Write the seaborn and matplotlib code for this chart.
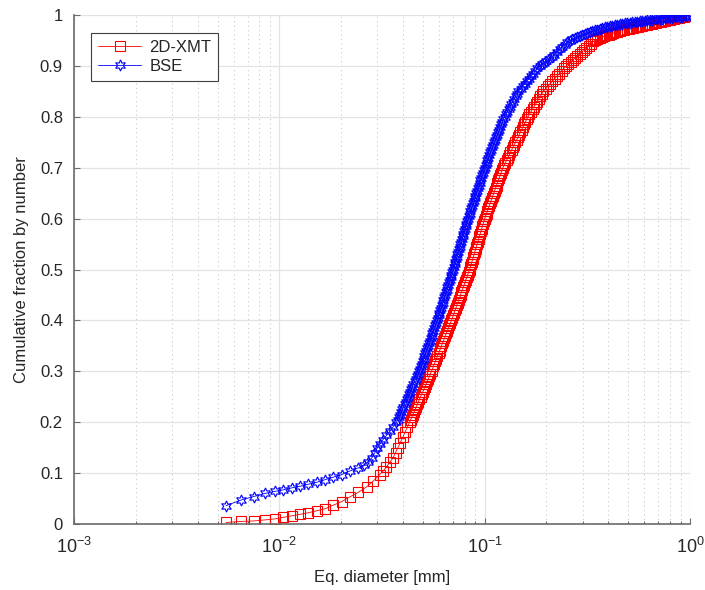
import numpy as np
import pandas as pd
import seaborn as sns
import matplotlib
matplotlib.use("Agg")
import matplotlib.pyplot as plt
from matplotlib.ticker import FixedLocator, FuncFormatter, LogLocator

# 2D-XMT (red squares): equivalent diameter [mm] and cumulative fraction
xmt_diam = [
    0.0055, 0.0065, 0.0075, 0.0085, 0.0095, 0.0104, 0.0115, 0.0126, 0.0138, 0.0152,
    0.0167, 0.0183, 0.0201, 0.0220, 0.0242, 0.0266, 0.0286, 0.0308, 0.0320, 0.0332,
    0.0345, 0.0358, 0.0368, 0.0378, 0.0388, 0.0399, 0.0409, 0.0420,
    0.0431, 0.0436, 0.0442, 0.0447, 0.0453, 0.0458, 0.0464, 0.0470, 0.0476, 0.0481,
    0.0487, 0.0493, 0.0500, 0.0506, 0.0512, 0.0518, 0.0525, 0.0531, 0.0538, 0.0544,
    0.0551, 0.0557, 0.0563, 0.0569, 0.0576, 0.0582, 0.0589, 0.0596, 0.0603, 0.0609,
    0.0616, 0.0623, 0.0630, 0.0637, 0.0644, 0.0651, 0.0659, 0.0666, 0.0674, 0.0681,
    0.0689, 0.0696, 0.0703, 0.0710, 0.0718, 0.0725, 0.0732, 0.0739, 0.0747, 0.0755,
    0.0763, 0.0770, 0.0778, 0.0786, 0.0794, 0.0802, 0.0811, 0.0819, 0.0828, 0.0836,
    0.0845, 0.0852, 0.0859, 0.0866, 0.0874, 0.0881, 0.0889, 0.0896, 0.0904, 0.0911,
    0.0919, 0.0927, 0.0935, 0.0943, 0.0951, 0.0959, 0.0967, 0.0975, 0.0983, 0.0991,
    0.1000, 0.1010, 0.1021, 0.1031, 0.1042, 0.1052, 0.1063, 0.1074, 0.1085, 0.1096,
    0.1108, 0.1119, 0.1131, 0.1142, 0.1154, 0.1166, 0.1178, 0.1190, 0.1202, 0.1214,
    0.1227, 0.1244, 0.1262, 0.1280, 0.1298, 0.1316, 0.1335, 0.1354, 0.1373, 0.1392,
    0.1412, 0.1432, 0.1452, 0.1472, 0.1493, 0.1514, 0.1535, 0.1557, 0.1579, 0.1601,
    0.1624, 0.1652, 0.1681, 0.1710, 0.1740, 0.1770, 0.1801, 0.1832, 0.1864, 0.1897,
    0.1930, 0.1980, 0.2032, 0.2085, 0.2138, 0.2194, 0.2251, 0.2310, 0.2370, 0.2431,
    0.2494, 0.2560, 0.2620, 0.2690, 0.2760, 0.2830, 0.2900, 0.2970, 0.3050, 0.3130,
    0.3210, 0.3290, 0.3370, 0.3450, 0.3540, 0.3630, 0.3720, 0.3810, 0.3910, 0.4010,
    0.4110, 0.4210, 0.4320, 0.4430, 0.4550, 0.4670, 0.4790, 0.4910, 0.5040, 0.5170,
    0.5300, 0.5440, 0.5580, 0.5720, 0.5870, 0.6020, 0.6180, 0.6340, 0.6500, 0.6670,
    0.6840, 0.7020, 0.7200, 0.7390, 0.7580, 0.7780, 0.7980, 0.8190, 0.8400, 0.8620,
    0.8840, 0.9070, 0.9300, 0.9540, 0.9770, 1.0000,
]
xmt_frac = [
    0.003, 0.005, 0.006, 0.008, 0.010, 0.013, 0.016, 0.019, 0.022, 0.026,
    0.030, 0.037, 0.044, 0.053, 0.062, 0.073, 0.084, 0.097, 0.104, 0.112,
    0.121, 0.130, 0.140, 0.150, 0.160, 0.170, 0.180, 0.190,
    0.200, 0.205, 0.210, 0.215, 0.220, 0.225, 0.230, 0.235, 0.240, 0.245,
    0.250, 0.255, 0.260, 0.265, 0.270, 0.275, 0.280, 0.285, 0.290, 0.295,
    0.300, 0.305, 0.310, 0.315, 0.320, 0.325, 0.330, 0.335, 0.340, 0.345,
    0.350, 0.355, 0.360, 0.365, 0.370, 0.375, 0.380, 0.385, 0.390, 0.395,
    0.400, 0.405, 0.410, 0.415, 0.420, 0.425, 0.430, 0.435, 0.440, 0.445,
    0.450, 0.455, 0.460, 0.465, 0.470, 0.475, 0.480, 0.485, 0.490, 0.495,
    0.500, 0.505, 0.510, 0.515, 0.520, 0.525, 0.530, 0.535, 0.540, 0.545,
    0.550, 0.555, 0.560, 0.565, 0.570, 0.575, 0.580, 0.585, 0.590, 0.595,
    0.600, 0.605, 0.610, 0.615, 0.620, 0.625, 0.630, 0.635, 0.640, 0.645,
    0.650, 0.655, 0.660, 0.665, 0.670, 0.675, 0.680, 0.685, 0.690, 0.695,
    0.700, 0.705, 0.710, 0.715, 0.720, 0.725, 0.730, 0.735, 0.740, 0.745,
    0.750, 0.755, 0.760, 0.765, 0.770, 0.775, 0.780, 0.785, 0.790, 0.795,
    0.800, 0.805, 0.810, 0.815, 0.820, 0.825, 0.830, 0.835, 0.840, 0.845,
    0.850, 0.855, 0.860, 0.865, 0.870, 0.875, 0.880, 0.885, 0.890, 0.895,
    0.900, 0.904, 0.908, 0.912, 0.916, 0.920, 0.924, 0.928, 0.932, 0.936,
    0.940, 0.944, 0.948, 0.950, 0.952, 0.954, 0.956, 0.958, 0.960, 0.961,
    0.963, 0.964, 0.966, 0.967, 0.969, 0.970, 0.971, 0.972, 0.973, 0.974,
    0.975, 0.976, 0.977, 0.978, 0.979, 0.980, 0.981, 0.982, 0.983, 0.984,
    0.985, 0.986, 0.987, 0.988, 0.989, 0.990, 0.991, 0.992, 0.993, 0.994,
    0.995, 0.996, 0.997, 0.998, 0.999, 1.000,
]

# BSE (blue hexagrams)
bse_diam = [
    0.0055, 0.0065, 0.0075, 0.0085, 0.0095, 0.0104, 0.0115, 0.0126, 0.0138, 0.0152,
    0.0167, 0.0183, 0.0201, 0.0220, 0.0242, 0.0257, 0.0270, 0.0282, 0.0292, 0.0300,
    0.0310, 0.0320, 0.0332, 0.0345, 0.0358,
    0.0372, 0.0377, 0.0382, 0.0387, 0.0392, 0.0397, 0.0402, 0.0407, 0.0412, 0.0417,
    0.0422, 0.0427, 0.0433, 0.0438, 0.0444, 0.0450, 0.0456, 0.0461, 0.0467, 0.0473,
    0.0479, 0.0484, 0.0489, 0.0494, 0.0499, 0.0504, 0.0509, 0.0514, 0.0519, 0.0524,
    0.0530, 0.0535, 0.0541, 0.0546, 0.0552, 0.0557, 0.0563, 0.0568, 0.0574, 0.0580,
    0.0586, 0.0591, 0.0597, 0.0602, 0.0608, 0.0613, 0.0619, 0.0624, 0.0630, 0.0635,
    0.0641, 0.0647, 0.0653, 0.0659, 0.0665, 0.0671, 0.0677, 0.0683, 0.0689, 0.0695,
    0.0701, 0.0707, 0.0713, 0.0719, 0.0725, 0.0731, 0.0737, 0.0743, 0.0750, 0.0756,
    0.0762, 0.0768, 0.0775, 0.0781, 0.0788, 0.0794, 0.0801, 0.0808, 0.0815, 0.0822,
    0.0829, 0.0837, 0.0845, 0.0853, 0.0861, 0.0869, 0.0877, 0.0885, 0.0893, 0.0901,
    0.0910, 0.0918, 0.0927, 0.0936, 0.0945, 0.0954, 0.0963, 0.0972, 0.0981, 0.0990,
    0.1000, 0.1010, 0.1021, 0.1032, 0.1043, 0.1054, 0.1066, 0.1078, 0.1090, 0.1102,
    0.1114, 0.1127, 0.1140, 0.1153, 0.1166, 0.1179, 0.1193, 0.1207, 0.1221, 0.1235,
    0.1250, 0.1270, 0.1290, 0.1310, 0.1330, 0.1351, 0.1372, 0.1393, 0.1415, 0.1437,
    0.1460, 0.1495, 0.1530, 0.1567, 0.1605, 0.1644, 0.1683, 0.1724, 0.1765, 0.1807,
    0.1850, 0.1900, 0.1950, 0.2000, 0.2060, 0.2120, 0.2180, 0.2250, 0.2320, 0.2380,
    0.2450, 0.2520, 0.2600, 0.2670, 0.2750, 0.2820, 0.2900, 0.2980, 0.3070, 0.3160,
    0.3250, 0.3340, 0.3440, 0.3540, 0.3640, 0.3740, 0.3850, 0.3960, 0.4070, 0.4180,
    0.4300, 0.4420, 0.4550, 0.4680, 0.4810, 0.4950, 0.5090, 0.5230, 0.5380, 0.5530,
    0.5690, 0.5850, 0.6020, 0.6190, 0.6370, 0.6550, 0.6740, 0.6930, 0.7120, 0.7320,
    0.7530, 0.7750, 0.7970, 0.8200, 0.8430, 0.8670, 0.8910, 0.9160, 0.9430, 0.9700,
    1.0000,
]
bse_frac = [
    0.036, 0.047, 0.054, 0.060, 0.064, 0.067, 0.071, 0.074, 0.078, 0.082,
    0.087, 0.092, 0.097, 0.104, 0.110, 0.115, 0.122, 0.130, 0.140, 0.150,
    0.158, 0.166, 0.174, 0.182, 0.191,
    0.200, 0.205, 0.210, 0.215, 0.220, 0.225, 0.230, 0.235, 0.240, 0.245,
    0.250, 0.255, 0.260, 0.265, 0.270, 0.275, 0.280, 0.285, 0.290, 0.295,
    0.300, 0.305, 0.310, 0.315, 0.320, 0.325, 0.330, 0.335, 0.340, 0.345,
    0.350, 0.355, 0.360, 0.365, 0.370, 0.375, 0.380, 0.385, 0.390, 0.395,
    0.400, 0.405, 0.410, 0.415, 0.420, 0.425, 0.430, 0.435, 0.440, 0.445,
    0.450, 0.455, 0.460, 0.465, 0.470, 0.475, 0.480, 0.485, 0.490, 0.495,
    0.500, 0.505, 0.510, 0.515, 0.520, 0.525, 0.530, 0.535, 0.540, 0.545,
    0.550, 0.555, 0.560, 0.565, 0.570, 0.575, 0.580, 0.585, 0.590, 0.595,
    0.600, 0.605, 0.610, 0.615, 0.620, 0.625, 0.630, 0.635, 0.640, 0.645,
    0.650, 0.655, 0.660, 0.665, 0.670, 0.675, 0.680, 0.685, 0.690, 0.695,
    0.700, 0.705, 0.710, 0.715, 0.720, 0.725, 0.730, 0.735, 0.740, 0.745,
    0.750, 0.755, 0.760, 0.765, 0.770, 0.775, 0.780, 0.785, 0.790, 0.795,
    0.800, 0.805, 0.810, 0.815, 0.820, 0.825, 0.830, 0.835, 0.840, 0.845,
    0.850, 0.855, 0.860, 0.865, 0.870, 0.875, 0.880, 0.885, 0.890, 0.895,
    0.900, 0.903, 0.906, 0.909, 0.913, 0.917, 0.922, 0.927, 0.933, 0.938,
    0.942, 0.946, 0.949, 0.952, 0.955, 0.957, 0.959, 0.961, 0.963, 0.965,
    0.967, 0.968, 0.970, 0.971, 0.973, 0.974, 0.976, 0.977, 0.978, 0.979,
    0.980, 0.981, 0.982, 0.983, 0.984, 0.984, 0.985, 0.986, 0.987, 0.987,
    0.988, 0.988, 0.989, 0.990, 0.990, 0.991, 0.992, 0.992, 0.993, 0.993,
    0.994, 0.994, 0.995, 0.995, 0.996, 0.996, 0.997, 0.997, 0.998, 0.999,
    1.000,
]
assert len(xmt_diam) == len(xmt_frac)
assert len(bse_diam) == len(bse_frac)

y_ticks = [0, 0.1, 0.2, 0.3, 0.4, 0.5, 0.6, 0.7, 0.8, 0.9, 1.0]

sns.set_style("white")
plt.rcParams["font.family"] = ["Liberation Sans", "DejaVu Sans"]
plt.rcParams["mathtext.fontset"] = "custom"
plt.rcParams["mathtext.rm"] = "Liberation Sans"
plt.rcParams["mathtext.it"] = "Liberation Sans:italic"

fig = plt.figure(figsize=(7.05, 5.9), dpi=100)
ax = fig.add_axes([74 / 705, 66 / 590, 616 / 705, 509 / 590])

df_xmt = pd.DataFrame({"diam": xmt_diam, "frac": xmt_frac})
df_bse = pd.DataFrame({"diam": bse_diam, "frac": bse_frac})

sns.lineplot(data=df_xmt, x="diam", y="frac", ax=ax, estimator=None, sort=False,
             color="#ff0000", linewidth=0.6, marker="s", markersize=6.5,
             markerfacecolor="none", markeredgecolor="#ff0000",
             markeredgewidth=0.8, label="2D-XMT")
sns.lineplot(data=df_bse, x="diam", y="frac", ax=ax, estimator=None, sort=False,
             color="#0000ff", linewidth=0.6, marker=(6, 1, 0), markersize=8,
             markerfacecolor="none", markeredgecolor="#0000ff",
             markeredgewidth=0.8, label="BSE")

ax.set_xscale("log")
ax.set_xlim(1e-3, 1)
ax.set_ylim(0, 1)
ax.xaxis.set_major_locator(LogLocator(base=10, numticks=10))
ax.xaxis.set_minor_locator(LogLocator(base=10, subs=np.arange(2, 10), numticks=10))
ax.yaxis.set_major_locator(FixedLocator(y_ticks))
ax.yaxis.set_major_formatter(FuncFormatter(lambda v, p: f"{v:g}"))

# MATLAB-ish grid: solid major lines, dotted minor lines on x
ax.grid(True, which="major", color="#e3e3e3", linewidth=0.9, linestyle="-")
ax.grid(True, which="minor", axis="x", color="#c8c8c8", linewidth=0.8,
        linestyle=(0, (1, 3)))
ax.set_axisbelow(True)

for side in ["top", "right"]:
    ax.spines[side].set_visible(False)
for side in ["left", "bottom"]:
    ax.spines[side].set_color("#6b6b6b")
    ax.spines[side].set_linewidth(1.2)

ax.tick_params(axis="both", which="major", direction="in", length=4, width=0.8,
               color="#6b6b6b", labelsize=12, labelcolor="#262626",
               bottom=True, left=True, pad=8)
ax.tick_params(axis="x", which="major", labelsize=13, pad=9)
ax.tick_params(axis="x", which="minor", direction="in", length=2.5, width=0.8,
               color="#6b6b6b", bottom=True)

ax.set_xlabel("Eq. diameter [mm]", fontsize=12, color="#262626", labelpad=10)
ax.set_ylabel("Cumulative fraction by number", fontsize=12, color="#262626",
              labelpad=8)

leg = ax.legend(loc="upper left", bbox_to_anchor=(0.028, 0.964), fontsize=12,
                frameon=True, fancybox=False, framealpha=1, borderpad=0.4,
                handlelength=2.6, handletextpad=0.5, labelspacing=0.25,
                borderaxespad=0)
leg.get_frame().set_edgecolor("#404040")
leg.get_frame().set_linewidth(0.8)

fig.savefig("out.png", dpi=100, facecolor="white")
